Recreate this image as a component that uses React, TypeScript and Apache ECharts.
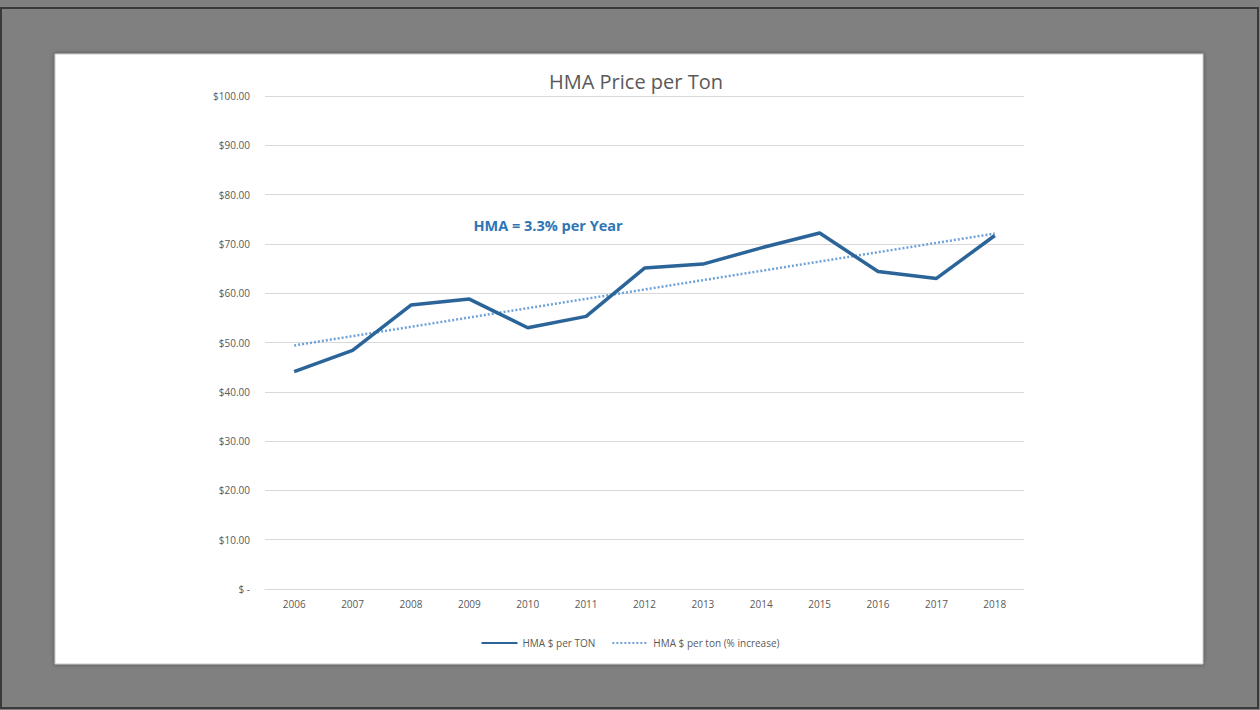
import React, { useEffect, useRef } from "react";
import * as echarts from "echarts";

const years = ["2006", "2007", "2008", "2009", "2010", "2011", "2012", "2013", "2014", "2015", "2016", "2017", "2018"];
const hmaPrice = [44.1, 48.4, 57.6, 58.8, 53.0, 55.3, 65.1, 65.9, 69.2, 72.2, 64.4, 63.0, 71.7];
// trendline endpoints (straight dotted line)
const hmaTrend = [49.4, null, null, null, null, null, null, null, null, null, null, null, 72.1];
const yTicks = [0, 10, 20, 30, 40, 50, 60, 70, 80, 90, 100];

const seriesNames = ["HMA $ per TON", "HMA $ per ton (% increase)"];
const titleText = "HMA Price per Ton";
const noteText = "HMA = 3.3% per Year";

export default function App() {
  const ref = useRef<HTMLDivElement>(null);
  useEffect(() => {
    document.body.style.margin = "0";
    const chart = echarts.init(ref.current!, null, { renderer: "svg" });
    const font = "'Open Sans', 'Noto Sans', sans-serif";
    chart.setOption({
      animation: false,
      backgroundColor: "#808080",
      textStyle: { fontFamily: font },
      graphic: [
        {
          type: "rect",
          shape: { x: 1, y: 8, width: 1257, height: 700 },
          style: { fill: "none", stroke: "#3a3a3a", lineWidth: 2 },
          z: -2,
        },
        {
          type: "rect",
          shape: { x: 55, y: 54, width: 1148, height: 610 },
          style: { fill: "#ffffff", stroke: "#c8c8c8", lineWidth: 1, shadowBlur: 4, shadowColor: "rgba(0,0,0,0.4)" },
          z: -1,
        },
        {
          type: "text",
          x: 548,
          y: 225,
          style: {
            text: noteText,
            fill: "#2e75b6",
            font: `bold 14.5px ${font}`,
            textAlign: "center",
            textVerticalAlign: "middle",
          },
          z: 10,
        },
      ],
      title: {
        text: titleText,
        left: 631,
        textAlign: "center",
        top: 66,
        textStyle: { fontSize: 20, fontWeight: "normal", color: "#595959", fontFamily: font },
      },
      legend: {
        data: seriesNames,
        bottom: 57,
        left: "center",
        itemWidth: 36,
        itemHeight: 4,
        itemGap: 16,
        itemStyle: { opacity: 0 },
        textStyle: { fontSize: 10, color: "#595959", fontFamily: font },
      },
      grid: { left: 265, right: 236, top: 96, bottom: 121, containLabel: false },
      xAxis: {
        type: "category",
        data: years,
        boundaryGap: true,
        axisLine: { show: true, lineStyle: { color: "#d9d9d9", width: 1 } },
        axisTick: { show: false },
        axisLabel: { fontSize: 10, color: "#595959", margin: 10 },
      },
      yAxis: {
        type: "value",
        min: yTicks[0],
        max: yTicks[yTicks.length - 1],
        interval: 10,
        axisLine: { show: false },
        axisTick: { show: false },
        splitLine: { lineStyle: { color: "#d9d9d9", width: 1 } },
        axisLabel: {
          fontSize: 10,
          color: "#595959",
          margin: 15,
          formatter: (v: number) => (v === 0 ? "$ -" : "$" + v.toFixed(2)),
        },
      },
      series: [
        {
          name: seriesNames[0],
          type: "line",
          data: hmaPrice,
          symbol: "none",
          lineStyle: { color: "#2b6499", width: 3.5 },
          itemStyle: { color: "#2b6499" },
          z: 3,
        },
        {
          name: seriesNames[1],
          type: "line",
          data: hmaTrend,
          connectNulls: true,
          symbol: "none",
          lineStyle: { color: "#6fa3d8", width: 2.5, type: [2, 2] },
          itemStyle: { color: "#6fa3d8" },
          z: 2,
        },
      ],
    });
    return () => chart.dispose();
  }, []);
  return <div ref={ref} style={{ width: 1260, height: 710 }} />;
}
